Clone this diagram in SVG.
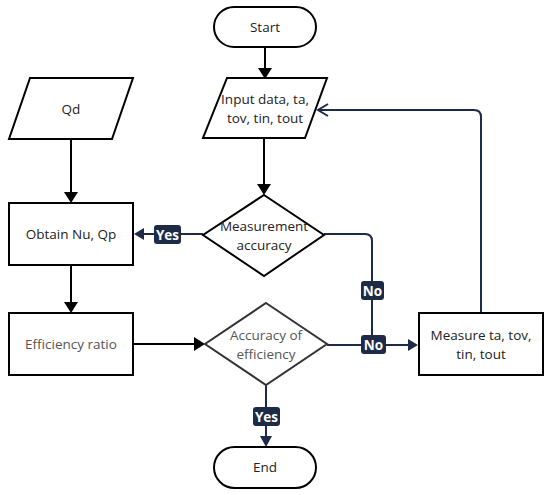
<svg xmlns="http://www.w3.org/2000/svg" width="550" height="495" viewBox="0 0 550 495">
<defs>
<style>
.n{fill:#fff;stroke:#000;stroke-width:2}
.g{fill:#fff;stroke:#333;stroke-width:2}
.t{font-family:"Open Sans","Noto Sans",sans-serif;font-size:13.5px;fill:#222;text-anchor:middle}
.tg{fill:#555}
.cb{fill:none;stroke:#000;stroke-width:2}
.cn{fill:none;stroke:#1e2b47;stroke-width:2}
.hb{fill:#000}
.hn{fill:#1e2b47}
.lb{fill:#1e2b47}
.lt{font-family:"Open Sans","Noto Sans",sans-serif;font-size:13.5px;font-weight:bold;fill:#fff;text-anchor:middle}
</style>
</defs>
<rect width="550" height="495" fill="#fff"/>
<g id="connectors">
<path class="cb" d="M265,47 V70"/>
<path class="hb" d="M258,68 L272,68 L265,79 Z"/>
<path class="cb" d="M264,138 V186"/>
<path class="hb" d="M257,184 L271,184 L264,195 Z"/>
<path class="cb" d="M71,139 V194"/>
<path class="hb" d="M64,192 L78,192 L71,203 Z"/>
<path class="cb" d="M71,265 V304"/>
<path class="hb" d="M64,302 L78,302 L71,313 Z"/>
<path class="cb" d="M133,344 H196"/>
<path class="hb" d="M194,337 L194,351 L205,344 Z"/>
<path class="cn" d="M203,234 H142"/>
<path class="hn" d="M144,228 L144,240 L134,234 Z"/>
<path class="cn" d="M324,234 H365 Q372,234 372,241 V345"/>
<path class="cn" d="M327,345 H410"/>
<path class="hn" d="M408,339 L408,351 L418,345 Z"/>
<path class="cn" d="M481,313 V117 Q481,110 474,110 H318"/>
<path class="cn" d="M328,104 L318,110 L328,116"/>
<path class="cn" d="M266,385 V438"/>
<path class="hn" d="M260,436 L272,436 L266,447 Z"/>
</g>
<g id="start">
<rect class="n" x="214" y="7" width="102" height="40" rx="20"/>
<text class="t" x="265" y="32">Start</text>
</g>
<g id="input">
<polygon class="n" points="227,78 327,78 305,138 203,138"/>
<text class="t" x="265" y="104">Input data, ta,</text>
<text class="t" x="265" y="123">tov, tin, tout</text>
</g>
<g id="qd">
<polygon class="n" points="30,78 133,78 112,139 9,139"/>
<text class="t" x="71" y="114">Qd</text>
</g>
<g id="obtain">
<rect class="n" x="9" y="203" width="124" height="62"/>
<text class="t" x="71" y="239">Obtain Nu, Qp</text>
</g>
<g id="measurement">
<polygon class="n" points="264,195 324,235 264,276 203,235"/>
<text class="t" x="264" y="231">Measurement</text>
<text class="t" x="264" y="250">accuracy</text>
</g>
<g id="efficiency">
<rect class="n" x="9" y="313" width="124" height="62"/>
<text class="t tg" x="71" y="349">Efficiency ratio</text>
</g>
<g id="accuracy">
<polygon class="g" points="266,303 327,344 266,385 205,344"/>
<text class="t tg" x="266" y="340">Accuracy of</text>
<text class="t tg" x="266" y="359">efficiency</text>
</g>
<g id="measure">
<rect class="n" x="419" y="313" width="124" height="62"/>
<text class="t" x="481" y="340">Measure ta, tov,</text>
<text class="t" x="481" y="359">tin, tout</text>
</g>
<g id="end">
<rect class="n" x="214" y="447" width="102" height="41" rx="20.5"/>
<text class="t" x="265" y="472">End</text>
</g>
<g id="labels">
<rect class="lb" x="154" y="225" width="27" height="19" rx="3"/>
<text class="lt" x="167.5" y="239.5">Yes</text>
<rect class="lb" x="361" y="281" width="23" height="19" rx="3"/>
<text class="lt" x="372.5" y="295.5">No</text>
<rect class="lb" x="361" y="335" width="25" height="19" rx="3"/>
<text class="lt" x="373.5" y="349.5">No</text>
<rect class="lb" x="253" y="407" width="27" height="19" rx="3"/>
<text class="lt" x="266.5" y="421.5">Yes</text>
</g>
</svg>
